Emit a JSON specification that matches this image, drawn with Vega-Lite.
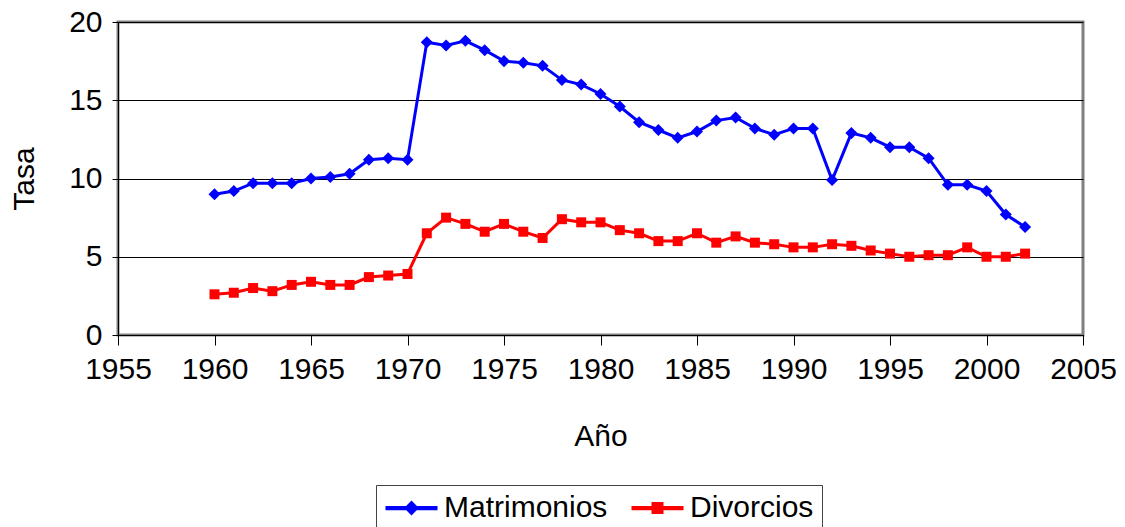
{
  "$schema": "https://vega.github.io/schema/vega-lite/v6.json",
  "width": 965,
  "height": 313,
  "autosize": "none",
  "padding": {"left": 118, "top": 22, "right": 42, "bottom": 192},
  "background": "white",
  "config": {
    "font": "Liberation Sans",
    "view": {"stroke": "#808080", "strokeWidth": 3},
    "axis": {
      "labelFont": "Liberation Sans",
      "labelFontSize": 30,
      "labelColor": "black",
      "titleFont": "Liberation Sans",
      "titleFontSize": 30,
      "titleFontWeight": "normal",
      "titleColor": "black",
      "domainColor": "black",
      "tickColor": "black"
    }
  },
  "data": {
    "values": [
      {"year": 1960, "serie": "Matrimonios", "tasa": 9.0},
      {"year": 1961, "serie": "Matrimonios", "tasa": 9.2},
      {"year": 1962, "serie": "Matrimonios", "tasa": 9.7},
      {"year": 1963, "serie": "Matrimonios", "tasa": 9.7},
      {"year": 1964, "serie": "Matrimonios", "tasa": 9.7},
      {"year": 1965, "serie": "Matrimonios", "tasa": 10.0},
      {"year": 1966, "serie": "Matrimonios", "tasa": 10.1},
      {"year": 1967, "serie": "Matrimonios", "tasa": 10.3},
      {"year": 1968, "serie": "Matrimonios", "tasa": 11.2},
      {"year": 1969, "serie": "Matrimonios", "tasa": 11.3},
      {"year": 1970, "serie": "Matrimonios", "tasa": 11.2},
      {"year": 1971, "serie": "Matrimonios", "tasa": 18.7},
      {"year": 1972, "serie": "Matrimonios", "tasa": 18.5},
      {"year": 1973, "serie": "Matrimonios", "tasa": 18.8},
      {"year": 1974, "serie": "Matrimonios", "tasa": 18.2},
      {"year": 1975, "serie": "Matrimonios", "tasa": 17.5},
      {"year": 1976, "serie": "Matrimonios", "tasa": 17.4},
      {"year": 1977, "serie": "Matrimonios", "tasa": 17.2},
      {"year": 1978, "serie": "Matrimonios", "tasa": 16.3},
      {"year": 1979, "serie": "Matrimonios", "tasa": 16.0},
      {"year": 1980, "serie": "Matrimonios", "tasa": 15.4},
      {"year": 1981, "serie": "Matrimonios", "tasa": 14.6},
      {"year": 1982, "serie": "Matrimonios", "tasa": 13.6},
      {"year": 1983, "serie": "Matrimonios", "tasa": 13.1},
      {"year": 1984, "serie": "Matrimonios", "tasa": 12.6},
      {"year": 1985, "serie": "Matrimonios", "tasa": 13.0},
      {"year": 1986, "serie": "Matrimonios", "tasa": 13.7},
      {"year": 1987, "serie": "Matrimonios", "tasa": 13.9},
      {"year": 1988, "serie": "Matrimonios", "tasa": 13.2},
      {"year": 1989, "serie": "Matrimonios", "tasa": 12.8},
      {"year": 1990, "serie": "Matrimonios", "tasa": 13.2},
      {"year": 1991, "serie": "Matrimonios", "tasa": 13.2},
      {"year": 1992, "serie": "Matrimonios", "tasa": 9.9},
      {"year": 1993, "serie": "Matrimonios", "tasa": 12.9},
      {"year": 1994, "serie": "Matrimonios", "tasa": 12.6},
      {"year": 1995, "serie": "Matrimonios", "tasa": 12.0},
      {"year": 1996, "serie": "Matrimonios", "tasa": 12.0},
      {"year": 1997, "serie": "Matrimonios", "tasa": 11.3},
      {"year": 1998, "serie": "Matrimonios", "tasa": 9.6},
      {"year": 1999, "serie": "Matrimonios", "tasa": 9.6},
      {"year": 2000, "serie": "Matrimonios", "tasa": 9.2},
      {"year": 2001, "serie": "Matrimonios", "tasa": 7.7},
      {"year": 2002, "serie": "Matrimonios", "tasa": 6.9},
      {"year": 1960, "serie": "Divorcios", "tasa": 2.6},
      {"year": 1961, "serie": "Divorcios", "tasa": 2.7},
      {"year": 1962, "serie": "Divorcios", "tasa": 3.0},
      {"year": 1963, "serie": "Divorcios", "tasa": 2.8},
      {"year": 1964, "serie": "Divorcios", "tasa": 3.2},
      {"year": 1965, "serie": "Divorcios", "tasa": 3.4},
      {"year": 1966, "serie": "Divorcios", "tasa": 3.2},
      {"year": 1967, "serie": "Divorcios", "tasa": 3.2},
      {"year": 1968, "serie": "Divorcios", "tasa": 3.7},
      {"year": 1969, "serie": "Divorcios", "tasa": 3.8},
      {"year": 1970, "serie": "Divorcios", "tasa": 3.9},
      {"year": 1971, "serie": "Divorcios", "tasa": 6.5},
      {"year": 1972, "serie": "Divorcios", "tasa": 7.5},
      {"year": 1973, "serie": "Divorcios", "tasa": 7.1},
      {"year": 1974, "serie": "Divorcios", "tasa": 6.6},
      {"year": 1975, "serie": "Divorcios", "tasa": 7.1},
      {"year": 1976, "serie": "Divorcios", "tasa": 6.6},
      {"year": 1977, "serie": "Divorcios", "tasa": 6.2},
      {"year": 1978, "serie": "Divorcios", "tasa": 7.4},
      {"year": 1979, "serie": "Divorcios", "tasa": 7.2},
      {"year": 1980, "serie": "Divorcios", "tasa": 7.2},
      {"year": 1981, "serie": "Divorcios", "tasa": 6.7},
      {"year": 1982, "serie": "Divorcios", "tasa": 6.5},
      {"year": 1983, "serie": "Divorcios", "tasa": 6.0},
      {"year": 1984, "serie": "Divorcios", "tasa": 6.0},
      {"year": 1985, "serie": "Divorcios", "tasa": 6.5},
      {"year": 1986, "serie": "Divorcios", "tasa": 5.9},
      {"year": 1987, "serie": "Divorcios", "tasa": 6.3},
      {"year": 1988, "serie": "Divorcios", "tasa": 5.9},
      {"year": 1989, "serie": "Divorcios", "tasa": 5.8},
      {"year": 1990, "serie": "Divorcios", "tasa": 5.6},
      {"year": 1991, "serie": "Divorcios", "tasa": 5.6},
      {"year": 1992, "serie": "Divorcios", "tasa": 5.8},
      {"year": 1993, "serie": "Divorcios", "tasa": 5.7},
      {"year": 1994, "serie": "Divorcios", "tasa": 5.4},
      {"year": 1995, "serie": "Divorcios", "tasa": 5.2},
      {"year": 1996, "serie": "Divorcios", "tasa": 5.0},
      {"year": 1997, "serie": "Divorcios", "tasa": 5.1},
      {"year": 1998, "serie": "Divorcios", "tasa": 5.1},
      {"year": 1999, "serie": "Divorcios", "tasa": 5.6},
      {"year": 2000, "serie": "Divorcios", "tasa": 5.0},
      {"year": 2001, "serie": "Divorcios", "tasa": 5.0},
      {"year": 2002, "serie": "Divorcios", "tasa": 5.2}
    ]
  },
  "encoding": {
    "x": {
      "field": "year", "type": "quantitative",
      "scale": {"domain": [1955, 2005], "nice": false, "zero": false},
      "axis": {
        "title": "Año", "values": [1955, 1960, 1965, 1970, 1975, 1980, 1985, 1990, 1995, 2000, 2005],
        "format": "d", "grid": false, "tickSize": 10, "labelPadding": 9, "titlePadding": 37,
        "labelFlush": false, "labelOverlap": false
      }
    },
    "y": {
      "field": "tasa", "type": "quantitative",
      "scale": {"domain": [0, 20], "nice": false},
      "axis": {
        "title": "Tasa", "values": [0, 5, 10, 15, 20], "grid": true, "gridColor": "black",
        "gridOpacity": 1, "gridWidth": 1, "tickSize": 6, "labelPadding": 10, "titlePadding": 29,
        "labelFlush": false
      }
    }
  },
  "layer": [
    {
      "mark": {"type": "line", "strokeWidth": 3},
      "encoding": {
        "color": {
          "field": "serie", "type": "nominal",
          "scale": {"domain": ["Matrimonios", "Divorcios"], "range": ["#0000ff", "#ff0000"]},
          "legend": {
            "title": null, "orient": "none", "direction": "horizontal",
            "legendX": 258, "legendY": 463,
            "labelFont": "Liberation Sans", "labelFontSize": 30, "labelColor": "black",
            "labelLimit": 400,
            "symbolSize": 625, "symbolStrokeWidth": 2,
            "labelOffset": 30, "columnPadding": 20, "padding": 8,
            "strokeColor": "#444444", "fillColor": "white",
            "encode": {
              "symbols": {
                "update": {
                  "shape": {"signal": "datum.value === 'Matrimonios' ? 'M-1,-0.09H3V0.09H-1Z M1,-0.48L1.48,0L1,0.48L0.52,0Z' : 'M-1,-0.09H3V0.09H-1Z M0.6,-0.4H1.4V0.4H0.6Z'"},
                  "fill": {"signal": "datum.value === 'Matrimonios' ? '#0000ff' : '#ff0000'"},
                  "stroke": {"value": "transparent"}
                }
              }
            }
          }
        }
      }
    },
    {
      "transform": [{"filter": "datum.serie === 'Matrimonios'"}],
      "mark": {"type": "point", "filled": true, "opacity": 1, "shape": "diamond", "color": "#0000ff", "size": 145}
    },
    {
      "transform": [{"filter": "datum.serie === 'Divorcios'"}],
      "mark": {"type": "point", "filled": true, "opacity": 1, "shape": "square", "color": "#ff0000", "size": 100}
    }
  ]
}
